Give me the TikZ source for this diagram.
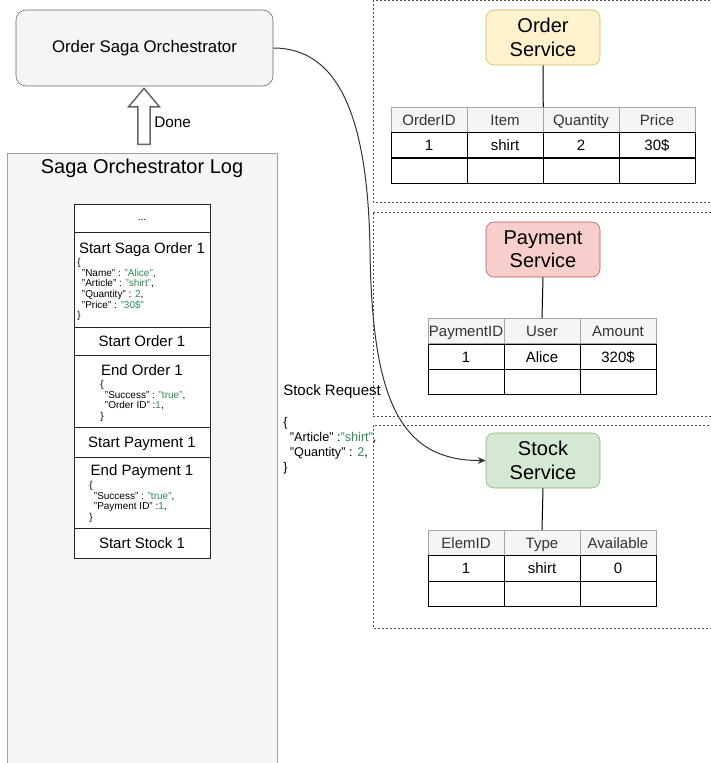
\documentclass[tikz,border=0pt]{standalone}
\usepackage{fontspec}
\setmainfont{Liberation Sans}
\usetikzlibrary{arrows.meta,positioning,shapes.arrows}

\definecolor{boxgray}{HTML}{F5F5F5}
\definecolor{edgegray}{HTML}{666666}
\definecolor{ordfill}{HTML}{FFF2CC}
\definecolor{orddraw}{HTML}{D6B656}
\definecolor{payfill}{HTML}{F8CECC}
\definecolor{paydraw}{HTML}{B85450}
\definecolor{stkfill}{HTML}{D5E8D4}
\definecolor{stkdraw}{HTML}{82B366}
\definecolor{jsongreen}{HTML}{2E8B57}
\newcommand{\jv}[1]{\textcolor{jsongreen}{#1}}

\begin{document}
\begin{tikzpicture}[
  x=0.75pt, y=-0.75pt,
  orchbox/.style={draw=edgegray, fill=boxgray, rounded corners=7.5pt,
              minimum width=192.75pt, minimum height=57pt,
              font=\fontsize{12.6}{14}\selectfont},
  logbox/.style={draw=gray!75, fill=boxgray, minimum width=202.5pt,
              minimum height=459.75pt},
  logrow/.style={draw=black!85, fill=white, minimum width=102pt,
              inner sep=0pt, text height=8pt, text depth=0pt,
              font=\fontsize{11.25}{13}\selectfont},
  rowtitle/.style={inner sep=0pt, text height=8pt, text depth=0pt,
              font=\fontsize{11.25}{13}\selectfont},
  json/.style={anchor=north west, align=left, inner sep=0pt,
              font=\fontsize{7.5}{8}\selectfont},
  service/.style={rounded corners=6pt, minimum width=85.5pt,
              minimum height=41.25pt, align=center,
              font=\fontsize{15}{17.5}\selectfont},
  hcell/.style={draw=gray!70, fill=boxgray, text=black!80,
              minimum width=57pt, minimum height=19.1pt, inner sep=0pt,
              text height=8pt, text depth=0pt,
              font=\fontsize{11.25}{13}\selectfont},
  cell/.style={draw=black, minimum width=57pt, minimum height=19.1pt,
              inner sep=0pt, text height=8pt, text depth=0pt,
              font=\fontsize{11.25}{13}\selectfont},
  donearrow/.style={single arrow, draw=edgegray, fill=white,
              line width=1.1pt, rotate=90, minimum height=42pt,
              inner sep=4pt, single arrow head extend=7.1pt,
              single arrow tip angle=80},
  zone/.style={draw=black!70, dash pattern=on 1.5pt off 1.5pt,
              line width=0.5pt},
  arr/.style={-{Stealth[length=6pt,width=5pt]}, draw=black!80,
              line width=0.75pt},
  link/.style={draw=black, line width=0.75pt},
  lbl/.style={inner sep=0pt, font=\fontsize{11.5}{13}\selectfont},
]
\useasboundingbox (0,0) rectangle (710,763);

\node[orchbox] (orch) at (144.5,48) {Order Saga Orchestrator};
\node[logbox] (log) at (142,459.5) {};
\node[lbl, font=\fontsize{15}{17}\selectfont] (logtitle) at (142,168)
  {Saga Orchestrator Log};
\node[donearrow] (done) at (144,120) {};
\node[lbl, anchor=west] (donelbl) at (154,122) {Done};

\node[logrow, minimum height=21pt, font=\fontsize{7.5}{9}\selectfont,
  text height=5pt, text depth=1pt] (dots) at (142,218) {...};
\node[logrow, minimum height=71.25pt] (saga) at (142,279.5) {};
\node[rowtitle] (sagatitle) at (142,248) {Start Saga Order 1};
\node[json] (sagajson) at (77,258) {\{\\
  \hspace*{3.5pt}"Name" : \jv{"Alice"},\\
  \hspace*{3.5pt}"Article" : \jv{"shirt"},\\
  \hspace*{3.5pt}"Quantity" : \jv{2},\\
  \hspace*{3.5pt}"Price" : \jv{"30\$"}\\
  \}};
\node[logrow, minimum height=21pt] (startord) at (142,341) {Start Order 1};
\node[logrow, minimum height=54pt] (endord) at (142,391) {};
\node[rowtitle] (endordtitle) at (142,370) {End Order 1};
\node[json] (endordjson) at (100,380) {\{\\
  \hspace*{3.5pt}"Success" : \jv{"true"},\\
  \hspace*{3.5pt}"Order ID" :\jv{1},\\
  \}};
\node[logrow, minimum height=22.5pt] (startpay) at (142,442) {Start Payment 1};
\node[logrow, minimum height=53.25pt] (endpay) at (142,492.5) {};
\node[rowtitle] (endpaytitle) at (142,470) {End Payment 1};
\node[json] (endpayjson) at (89,481) {\{\\
  \hspace*{3.5pt}"Success" : \jv{"true"},\\
  \hspace*{3.5pt}"Payment ID" :\jv{1},\\
  \}};
\node[logrow, minimum height=22.5pt] (startstk) at (142,543) {Start Stock 1};

\draw[zone] (373,0.5) rectangle (716,202);
\draw[zone] (373,212.5) rectangle (716,416.5);
\draw[zone] (373,425) rectangle (716,628);

\node[service, fill=ordfill, draw=orddraw] (ordsvc) at (543,37.5) {Order\\Service};
\node[service, fill=payfill, draw=paydraw] (paysvc) at (543,249.5) {Payment\\Service};
\node[service, fill=stkfill, draw=stkdraw] (stksvc) at (543,460.5) {Stock\\Service};

\node[hcell] (oh1) at (429,120) {OrderID};
\node[hcell] (oh2) at (505,120) {Item};
\node[hcell] (oh3) at (581,120) {Quantity};
\node[hcell] (oh4) at (657,120) {Price};
\node[cell] (or1) at (429,145.5) {1};
\node[cell] (or2) at (505,145.5) {shirt};
\node[cell] (or3) at (581,145.5) {2};
\node[cell] (or4) at (657,145.5) {30\$};
\node[cell] (oe1) at (429,170.5) {};
\node[cell] (oe2) at (505,170.5) {};
\node[cell] (oe3) at (581,170.5) {};
\node[cell] (oe4) at (657,170.5) {};

\node[hcell] (ph1) at (466,331) {PaymentID};
\node[hcell] (ph2) at (542,331) {User};
\node[hcell] (ph3) at (618,331) {Amount};
\node[cell] (pr1) at (466,356.7) {1};
\node[cell] (pr2) at (542,356.7) {Alice};
\node[cell] (pr3) at (618,356.7) {320\$};
\node[cell] (pe1) at (466,382) {};
\node[cell] (pe2) at (542,382) {};
\node[cell] (pe3) at (618,382) {};

\node[hcell] (sh1) at (466,543) {ElemID};
\node[hcell] (sh2) at (542,543) {Type};
\node[hcell] (sh3) at (618,543) {Available};
\node[cell] (sr1) at (466,568.3) {1};
\node[cell] (sr2) at (542,568.3) {shirt};
\node[cell] (sr3) at (618,568.3) {0};
\node[cell] (se1) at (466,594) {};
\node[cell] (se2) at (542,594) {};
\node[cell] (se3) at (618,594) {};

\draw[link] (ordsvc.south) -- (oh2.north east);
\draw[link] (paysvc.south) -- (ph2.north);
\draw[link] (stksvc.south) -- (sh2.north);

\node[lbl, anchor=west, font=\fontsize{11.25}{13}\selectfont] (reqlbl)
  at (283,392) {Stock Request};
\node[json, font=\fontsize{9.5}{11.25}\selectfont] (reqjson) at (283,417) {\{\\
  \hspace*{5pt}"Article" :\jv{"shirt"},\\
  \hspace*{5pt}"Quantity" : \jv{2},\\
  \}};

\draw[arr] (orch.east) .. controls (340,48) and (368,120) .. (370,250)
  .. controls (372,400) and (400,461) .. (stksvc.west);

\end{tikzpicture}
\end{document}
